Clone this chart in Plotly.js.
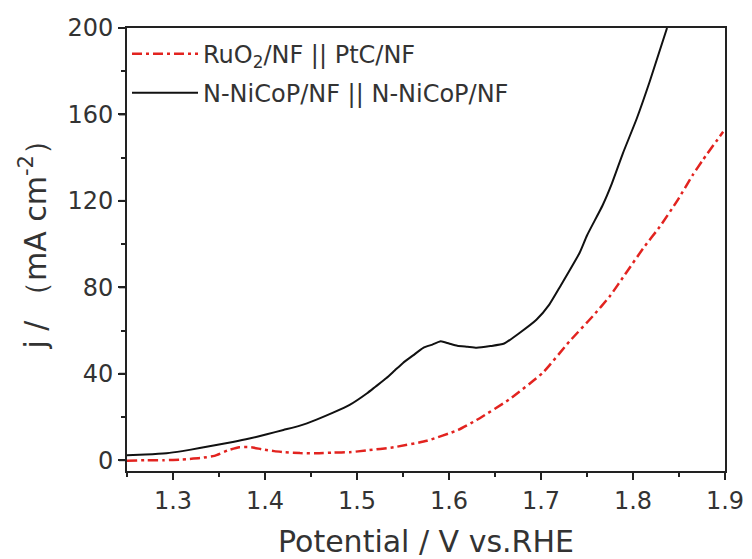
<!DOCTYPE html>
<html>
<head>
<meta charset="utf-8">
<script src="https://cdn.plot.ly/plotly-3.0.1.min.js"></script>
<style>html,body{margin:0;padding:0;background:#fff;}#chart{width:752px;height:559px;}</style>
</head>
<body>
<div id="chart"></div>
<script>
// N-NiCoP/NF || N-NiCoP/NF
const nicopV = [1.25, 1.27, 1.293, 1.31, 1.329, 1.347, 1.365, 1.383, 1.402, 1.42, 1.438, 1.456, 1.474, 1.492, 1.511, 1.52, 1.532, 1.541, 1.55, 1.561, 1.572, 1.582, 1.591, 1.6, 1.609, 1.62, 1.63, 1.645, 1.66, 1.677, 1.695, 1.709, 1.721, 1.742, 1.75, 1.767, 1.777, 1.789, 1.804, 1.818, 1.837];
const nicopJ = [2.3, 2.6, 3.2, 4.2, 5.6, 7.0, 8.4, 10.0, 12.0, 14.0, 16, 18.8, 22, 25.6, 31, 34, 38, 41.5, 45, 48.5, 52, 53.5, 55, 54, 53, 52.5, 52, 52.8, 54, 59, 65, 72, 80.5, 96, 104, 118, 128, 142, 158, 175, 200];
// RuO2/NF || PtC/NF
const ruoV = [1.25, 1.27, 1.29, 1.31, 1.33, 1.345, 1.36, 1.372, 1.385, 1.397, 1.41, 1.422, 1.438, 1.456, 1.474, 1.492, 1.51, 1.54, 1.576, 1.61, 1.63, 1.665, 1.702, 1.731, 1.756, 1.775, 1.793, 1.811, 1.829, 1.848, 1.865, 1.876, 1.898];
const ruoJ = [-0.3, 0, 0, 0.3, 1.0, 2.0, 4.6, 6.0, 6.0, 5.0, 4.2, 3.7, 3.3, 3.2, 3.5, 3.7, 4.5, 6, 9, 14, 18.6, 28, 40.5, 55, 66.5, 76, 87, 98, 108, 120, 132, 139, 152];
const seriesNames = ["RuO<sub>2</sub>/NF || PtC/NF", "N-NiCoP/NF || N-NiCoP/NF"];
const xTicks = [1.3, 1.4, 1.5, 1.6, 1.7, 1.8, 1.9];
const yTicks = [0, 40, 80, 120, 160, 200];
const xMinorTicks = [1.25, 1.35, 1.45, 1.55, 1.65, 1.75, 1.85];
const yMinorTicks = [20, 60, 100, 140, 180];
const xRange = [1.25, 1.9];
const yRange = [-5, 200];
const xTitle = 'Potential / V vs.RHE';
const yTitle = 'j / （mA cm<sup>-2</sup>）';

const fontFam = '"DejaVu Sans", "Liberation Sans", Arial, sans-serif';
const tickColor = '#222';
const traces = [
  {x: ruoV, y: ruoJ, name: seriesNames[0], mode: 'lines', type: 'scatter', legendgroup: 'a',
   line: {color: '#e2231f', width: 2.5, dash: '10px,4px,3px,4px', shape: 'spline', smoothing: 0.5}},
  {x: nicopV, y: nicopJ, name: seriesNames[1], mode: 'lines', type: 'scatter', legendgroup: 'b',
   line: {color: '#111111', width: 2, shape: 'spline', smoothing: 0.5}}
];
// major tick marks, placed through the axis scales (x in data units, length in pixels)
const majorTickShapes = xTicks.map(v => ({
  type: 'line', layer: 'above', xref: 'x', x0: v, x1: v,
  yref: 'paper', ysizemode: 'pixel', yanchor: 0, y0: -1, y1: -8,
  line: {color: tickColor, width: 2}
})).concat(yTicks.map(v => ({
  type: 'line', layer: 'above', yref: 'y', y0: v, y1: v,
  xref: 'paper', xsizemode: 'pixel', xanchor: 0, x0: -1, x1: -8,
  line: {color: tickColor, width: 2}
})));
const layout = {
  width: 752, height: 559,
  margin: {l: 127, r: 27, t: 28, b: 88},
  paper_bgcolor: '#fff', plot_bgcolor: '#fff',
  showlegend: true,
  legend: {x: 0.0, y: 0.992, xanchor: 'left', yanchor: 'top', bgcolor: 'rgba(0,0,0,0)',
           font: {family: fontFam, size: 24, color: '#333'}, itemwidth: 66,
           traceorder: 'grouped', tracegroupgap: 5},
  xaxis: {
    range: xRange, tickmode: 'array', tickvals: xTicks, ticktext: xTicks.map(v => v.toFixed(1)),
    showline: true, linecolor: tickColor, linewidth: 2, mirror: true,
    ticks: 'outside', ticklen: 7, tickwidth: 2, tickcolor: tickColor,
    showgrid: false, zeroline: false,
    tickfont: {family: fontFam, size: 24, color: '#333'},
    minor: {tickmode: 'array', tickvals: xMinorTicks, ticks: 'outside', ticklen: 4, tickwidth: 2, tickcolor: tickColor, showgrid: false},
    title: {text: xTitle, font: {family: fontFam, size: 30, color: '#333'}, standoff: 18}
  },
  yaxis: {
    range: yRange, tickmode: 'array', tickvals: yTicks, ticktext: yTicks.map(String),
    showline: true, linecolor: tickColor, linewidth: 2, mirror: true,
    ticks: 'outside', ticklen: 7, tickwidth: 2, tickcolor: tickColor,
    showgrid: false, zeroline: false,
    tickfont: {family: fontFam, size: 24, color: '#333'},
    minor: {tickmode: 'array', tickvals: yMinorTicks, ticks: 'outside', ticklen: 4, tickwidth: 2, tickcolor: tickColor, showgrid: false}
  },
  shapes: majorTickShapes,
  annotations: [{
    text: yTitle, textangle: -90, showarrow: false,
    xref: 'paper', yref: 'paper', x: 0, y: 0.5, xanchor: 'center', yanchor: 'middle',
    xshift: -93, yshift: 12,
    font: {family: fontFam, size: 30, color: '#333'}
  }]
};
Plotly.newPlot('chart', traces, layout, {displayModeBar: false, staticPlot: true});
</script>
</body>
</html>
